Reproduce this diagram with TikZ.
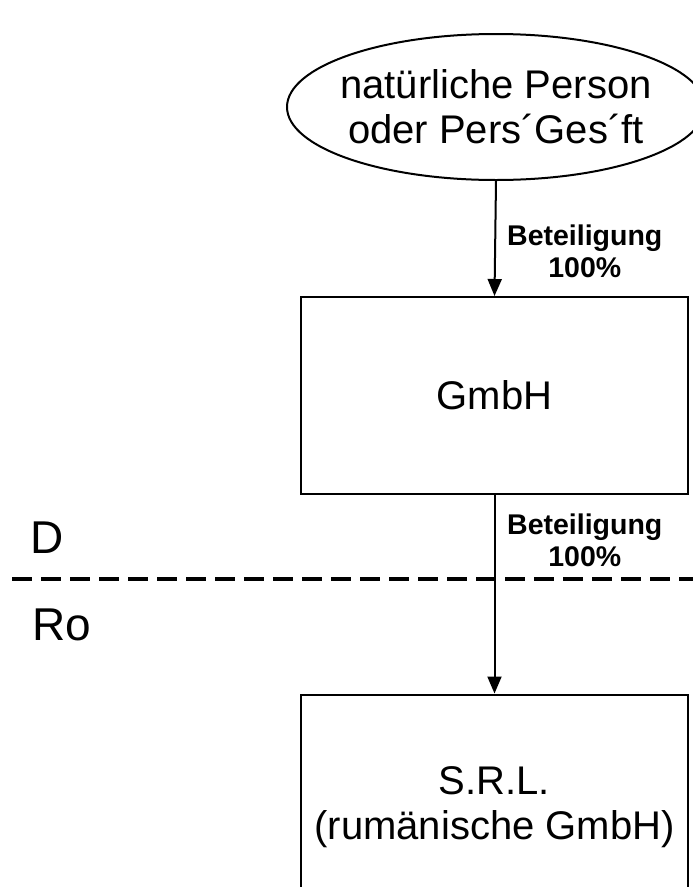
\documentclass[tikz,border=0pt]{standalone}
\usepackage{fontspec}
\setmainfont{Liberation Sans}
\usetikzlibrary{shapes.geometric,arrows.meta}
\begin{document}
\begin{tikzpicture}[x=1pt,y=-1pt,
  big/.style={font=\fontsize{40}{45}\selectfont, align=center},
  boxnode/.style={draw, line width=2pt, rectangle, minimum width=387pt, minimum height=197pt, inner sep=0pt, big},
  lab/.style={font=\bfseries\fontsize{28.5}{32}\selectfont, align=center, anchor=west, inner sep=0pt},
  conn/.style={line width=2pt, -{Triangle[width=14pt,length=17pt]}},
  side/.style={font=\fontsize{46}{50}\selectfont, inner sep=0pt},
  sep/.style={line width=4.5pt, dash pattern=on 20pt off 9pt}]
\useasboundingbox (0,0) rectangle (693,887);
\node[ellipse, draw, line width=2pt, minimum width=418pt, minimum height=146pt, inner sep=0pt,
  label={[big, inner sep=0pt]center:natürliche Person\\oder Pers´Ges´ft}] (p) at (496,107) {};
\node[boxnode] (g) at (494.5,395.5) {GmbH};
\node[boxnode, minimum height=225pt] (s) at (494.5,807) {S.R.L.\\(rumänische GmbH)};
\draw[conn] (p.south) -- (g.north);
\draw[conn] (g.south) -- (s.north);
\node[lab] (l1) at (507,251) {Beteiligung\\100\%};
\node[lab] (l2) at (507,540) {Beteiligung\\100\%};
\coordinate (dl) at (12,579);
\coordinate (dr) at (700,579);
\draw[sep] (dl) -- (dr);
\node[side] (d) at (47,538) {D};
\node[side] (ro) at (62,625) {Ro};
\end{tikzpicture}
\end{document}
